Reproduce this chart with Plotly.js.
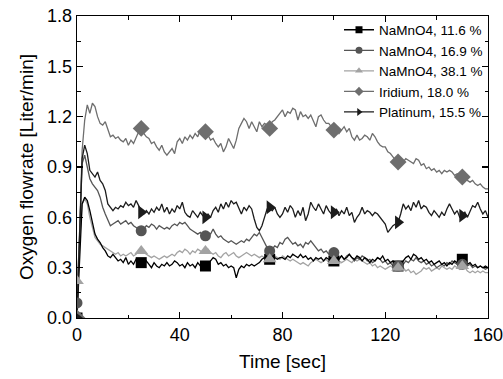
<!DOCTYPE html>
<html>
<head>
<meta charset="utf-8">
<script src="https://cdn.plot.ly/plotly-3.0.1.min.js"></script>
<style>html,body{margin:0;padding:0;background:#fff;}#chart{width:503px;height:379px;}</style>
</head>
<body>
<div id="chart"></div>
<script>
// time step of the logged data (sec), first sample at t = 0
const T0 = 0;
const DT = 1;
// times at which the symbols are placed (sec)
const MARK_T = [0, 25, 50, 75, 100, 125, 150];

const SERIES_NAMES = ["NaMnO4, 11.6 %", "NaMnO4, 16.9 %", "NaMnO4, 38.1 %", "Iridium, 18.0 %", "Platinum, 15.5 %"];

// NaMnO4, 11.6 % (Liter/min), t = 0..160 s
const NAMNO4_116 = [
 0.00,0.35,0.68,0.72,0.70,0.64,0.57,0.50,0.47,0.45,
 0.42,0.40,0.37,0.36,0.38,0.36,0.34,0.35,0.33,0.36,
 0.32,0.34,0.32,0.35,0.33,0.33,0.31,0.34,0.32,0.30,
 0.33,0.31,0.30,0.32,0.31,0.33,0.31,0.32,0.34,0.33,
 0.31,0.32,0.30,0.33,0.31,0.32,0.30,0.33,0.31,0.32,
 0.31,0.32,0.34,0.36,0.35,0.32,0.33,0.31,0.32,0.30,
 0.31,0.30,0.24,0.29,0.31,0.30,0.32,0.31,0.32,0.31,
 0.32,0.33,0.35,0.36,0.35,0.35,0.37,0.36,0.35,0.36,
 0.36,0.35,0.37,0.36,0.38,0.37,0.36,0.38,0.36,0.37,
 0.35,0.36,0.34,0.36,0.35,0.36,0.34,0.36,0.35,0.34,
 0.34,0.36,0.35,0.37,0.35,0.36,0.38,0.36,0.35,0.37,
 0.36,0.34,0.36,0.35,0.33,0.35,0.34,0.36,0.35,0.37,
 0.34,0.35,0.33,0.34,0.32,0.31,0.33,0.34,0.36,0.37,
 0.35,0.38,0.37,0.35,0.36,0.34,0.35,0.33,0.34,0.32,
 0.33,0.34,0.32,0.33,0.31,0.33,0.32,0.34,0.33,0.34,
 0.35,0.34,0.32,0.33,0.31,0.32,0.30,0.31,0.30,0.31,
 0.30
];

// NaMnO4, 16.9 %
const NAMNO4_169 = [
 0.09,0.50,0.92,0.97,0.90,0.83,0.80,0.78,0.76,0.72,
 0.66,0.62,0.58,0.55,0.56,0.57,0.58,0.56,0.57,0.58,
 0.56,0.57,0.55,0.54,0.53,0.52,0.53,0.55,0.54,0.56,
 0.55,0.53,0.55,0.54,0.53,0.54,0.53,0.55,0.56,0.55,
 0.57,0.56,0.57,0.55,0.53,0.52,0.51,0.50,0.51,0.49,
 0.49,0.51,0.50,0.53,0.50,0.48,0.49,0.47,0.46,0.45,
 0.46,0.45,0.44,0.45,0.46,0.45,0.47,0.46,0.48,0.50,
 0.49,0.51,0.48,0.45,0.42,0.40,0.41,0.43,0.42,0.45,
 0.44,0.47,0.48,0.46,0.44,0.45,0.43,0.44,0.42,0.45,
 0.44,0.46,0.44,0.42,0.40,0.41,0.39,0.40,0.38,0.39,
 0.39,0.38,0.36,0.37,0.35,0.37,0.38,0.36,0.34,0.36,
 0.35,0.37,0.36,0.34,0.35,0.33,0.34,0.36,0.35,0.33,
 0.34,0.32,0.33,0.31,0.32,0.31,0.33,0.32,0.34,0.33,
 0.35,0.34,0.36,0.34,0.33,0.34,0.32,0.33,0.31,0.32,
 0.30,0.31,0.32,0.31,0.33,0.32,0.34,0.33,0.32,0.33,
 0.32,0.33,0.31,0.32,0.30,0.31,0.30,0.31,0.30,0.29,
 0.30
];

// NaMnO4, 38.1 %
const NAMNO4_381 = [
 0.22,0.45,0.68,0.71,0.68,0.60,0.53,0.48,0.46,0.44,
 0.43,0.42,0.41,0.40,0.39,0.38,0.39,0.37,0.38,0.37,
 0.38,0.39,0.37,0.38,0.40,0.40,0.39,0.38,0.37,0.36,
 0.37,0.36,0.35,0.36,0.37,0.36,0.37,0.38,0.37,0.39,
 0.40,0.39,0.41,0.40,0.38,0.40,0.39,0.41,0.40,0.39,
 0.40,0.41,0.39,0.38,0.39,0.37,0.36,0.38,0.39,0.37,
 0.38,0.39,0.37,0.36,0.37,0.38,0.39,0.38,0.37,0.38,
 0.37,0.36,0.37,0.36,0.35,0.35,0.36,0.37,0.36,0.35,
 0.37,0.36,0.35,0.34,0.35,0.34,0.33,0.32,0.33,0.32,
 0.31,0.33,0.34,0.35,0.34,0.33,0.34,0.35,0.33,0.34,
 0.34,0.35,0.34,0.33,0.34,0.35,0.34,0.33,0.35,0.34,
 0.35,0.34,0.33,0.32,0.33,0.31,0.32,0.30,0.31,0.30,
 0.29,0.30,0.31,0.30,0.29,0.30,0.29,0.30,0.28,0.29,
 0.27,0.28,0.26,0.27,0.28,0.30,0.29,0.30,0.28,0.29,
 0.30,0.29,0.31,0.30,0.29,0.30,0.29,0.31,0.30,0.29,
 0.31,0.30,0.28,0.27,0.28,0.27,0.28,0.27,0.28,0.27,
 0.27
];

// Iridium, 18.0 %
const IRIDIUM = [
 0.00,0.55,1.00,1.18,1.27,1.22,1.28,1.26,1.20,1.16,
 1.15,1.17,1.12,1.08,1.09,1.07,1.08,1.06,1.05,1.07,
 1.03,1.06,1.04,1.08,1.11,1.13,1.10,1.08,1.07,1.04,
 1.05,1.02,1.00,1.03,0.99,0.97,0.99,1.01,0.98,1.05,
 1.07,1.04,1.08,1.06,1.09,1.07,1.10,1.08,1.12,1.10,
 1.11,1.09,1.06,1.07,1.04,1.02,1.04,0.99,1.02,1.07,
 1.04,1.01,1.06,1.13,1.16,1.19,1.17,1.13,1.17,1.14,
 1.11,1.17,1.14,1.16,1.15,1.13,1.17,1.18,1.20,1.22,
 1.24,1.20,1.23,1.22,1.25,1.24,1.18,1.23,1.20,1.21,
 1.19,1.21,1.17,1.14,1.20,1.21,1.18,1.16,1.16,1.14,
 1.12,1.13,1.10,1.12,1.14,1.11,1.13,1.08,1.06,1.09,
 1.06,1.07,1.09,1.08,1.06,1.10,1.08,1.05,1.03,1.02,
 1.02,0.99,0.98,0.96,0.94,0.93,0.95,0.93,0.95,0.94,
 0.93,0.92,0.95,0.94,0.91,0.92,0.89,0.90,0.88,0.89,
 0.87,0.88,0.86,0.88,0.87,0.88,0.87,0.85,0.86,0.85,
 0.84,0.83,0.82,0.81,0.82,0.80,0.79,0.80,0.78,0.77,
 0.77
];

// Platinum, 15.5 %
const PLATINUM = [
 0.00,0.45,0.95,1.03,0.98,0.88,0.86,0.84,0.87,0.82,
 0.80,0.76,0.68,0.66,0.64,0.66,0.65,0.67,0.66,0.69,
 0.67,0.68,0.66,0.70,0.67,0.63,0.62,0.64,0.62,0.65,
 0.63,0.66,0.64,0.68,0.63,0.66,0.62,0.65,0.63,0.67,
 0.65,0.69,0.63,0.61,0.60,0.64,0.62,0.60,0.63,0.61,
 0.60,0.62,0.60,0.64,0.66,0.63,0.68,0.65,0.69,0.66,
 0.70,0.68,0.69,0.65,0.62,0.66,0.64,0.67,0.65,0.59,
 0.54,0.52,0.55,0.60,0.65,0.66,0.64,0.66,0.62,0.60,
 0.62,0.66,0.63,0.67,0.65,0.60,0.64,0.61,0.66,0.58,
 0.62,0.69,0.66,0.64,0.68,0.65,0.62,0.67,0.64,0.62,
 0.63,0.65,0.61,0.64,0.62,0.66,0.61,0.63,0.57,0.60,
 0.62,0.66,0.62,0.64,0.63,0.61,0.63,0.62,0.60,0.58,
 0.56,0.51,0.53,0.55,0.56,0.57,0.62,0.68,0.65,0.67,
 0.64,0.69,0.66,0.70,0.65,0.67,0.66,0.63,0.61,0.64,
 0.62,0.60,0.63,0.61,0.65,0.68,0.65,0.62,0.64,0.60,
 0.61,0.63,0.60,0.64,0.67,0.66,0.69,0.65,0.62,0.64,
 0.60
];

const SERIES = [NAMNO4_116, NAMNO4_169, NAMNO4_381, IRIDIUM, PLATINUM];
const COLORS = ["#000000", "#555555", "#a3a3a3", "#6e6e6e", "#1c1c1c"];
const SYMBOLS = ["square", "circle", "triangle-up", "diamond", "triangle-right"];
const SIZES = [11, 11, 12, 13, 12];
const LINE_ORDER = [3, 2, 1, 0, 4];
const MARKER_ORDER = [0, 1, 2, 3, 4];

const FONT = "Liberation Sans, Arial, Helvetica, sans-serif";
const traces = [];

LINE_ORDER.forEach(function (i) {
  traces.push({
    type: "scatter", mode: "lines", x0: T0, dx: DT, y: SERIES[i],
    line: {color: COLORS[i], width: 1.3}, showlegend: false, hoverinfo: "skip"
  });
});
MARKER_ORDER.forEach(function (i) {
  const ys = SERIES[i];
  traces.push({
    type: "scatter", mode: "markers", x: MARK_T,
    y: MARK_T.map(function (t) { return ys[Math.round((t - T0) / DT)]; }),
    marker: {symbol: SYMBOLS[i], size: SIZES[i], color: COLORS[i], line: {width: 0}},
    showlegend: false, hoverinfo: "skip"
  });
});

// legend entries
SERIES.forEach(function (ys, i) {
  traces.push({
    type: "scatter", mode: "lines+markers", x: [null], y: [null], name: SERIES_NAMES[i],
    legendrank: i + 1,
    line: {color: COLORS[i], width: 1.3},
    marker: {symbol: SYMBOLS[i], size: 7, color: COLORS[i]}
  });
});

const axisCommon = {
  showline: true, linecolor: "#000", linewidth: 1.3, mirror: "ticks",
  ticks: "inside", ticklen: 6, tickwidth: 1.2, tickcolor: "#000",
  showgrid: false, zeroline: false, ticklabeloverflow: "allow",
  tickfont: {family: FONT, size: 18, color: "#000"}
};

const layout = {
  width: 503, height: 379,
  margin: {l: 77, r: 15, t: 16, b: 61},
  paper_bgcolor: "#fff", plot_bgcolor: "#fff",
  font: {family: FONT, color: "#000"},
  xaxis: Object.assign({}, axisCommon, {
    range: [0, 160], tick0: 0, dtick: 40,
    minor: {ticks: "inside", ticklen: 3.5, tickwidth: 1, dtick: 20, tickcolor: "#000"},
    title: {text: "Time [sec]", font: {family: FONT, size: 19, color: "#000"}, standoff: 10}
  }),
  yaxis: Object.assign({}, axisCommon, {
    range: [0, 1.8], tick0: 0, dtick: 0.3, tickformat: ".1f",
    minor: {ticks: "inside", ticklen: 3.5, tickwidth: 1, dtick: 0.15, tickcolor: "#000"},
    title: {text: "Oxygen flowrate [Liter/min]", font: {family: FONT, size: 19, color: "#000"}, standoff: 8}
  }),
  legend: {
    x: 1, xanchor: "right", y: 1.005, yanchor: "top",
    bgcolor: "rgba(0,0,0,0)", borderwidth: 0,
    font: {family: FONT, size: 13.5, color: "#000"},
    tracegroupgap: 0, itemwidth: 30
  },
  showlegend: true
};

Plotly.newPlot("chart", traces, layout, {staticPlot: true, displayModeBar: false});
</script>
</body>
</html>
